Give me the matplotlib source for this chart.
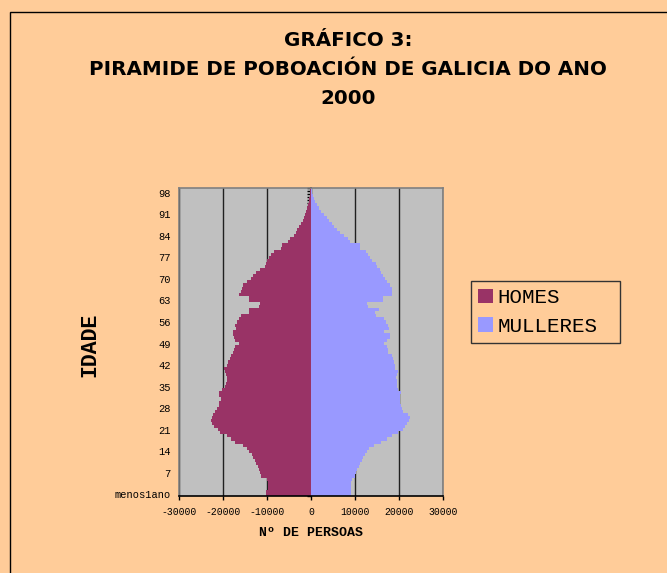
import matplotlib
matplotlib.use("Agg")
import matplotlib.pyplot as plt
import numpy as np
from matplotlib.patches import Patch, Rectangle

# population by single year of age, thousands of persons (0 = "menos1ano")
ages = np.arange(100)
homes = [
    10.3, 10.3, 9.8, 9.8, 9.8, 9.9, 11.3, 11.6, 11.8, 12.1,
    12.4, 12.7, 13.1, 13.5, 14.0, 14.5, 15.4, 17.3, 18.2, 19.2,
    20.6, 21.1, 22.1, 22.6, 22.7, 22.6, 22.3, 21.8, 21.4, 21.0,
    20.8, 20.5, 20.8, 20.8, 20.2, 19.5, 19.3, 19.2, 19.2, 19.3,
    19.5, 19.8, 19.2, 18.9, 18.5, 18.1, 17.7, 17.4, 17.3, 16.4,
    17.2, 17.6, 17.8, 17.7, 17.0, 17.2, 16.8, 16.4, 16.0, 14.1,
    14.1, 11.8, 11.6, 14.1, 14.1, 16.4, 15.9, 15.6, 15.5, 14.5,
    13.7, 13.1, 12.6, 11.6, 10.5, 10.3, 9.9, 9.5, 9.0, 8.4,
    6.9, 6.7, 5.2, 4.7, 3.8, 3.4, 3.1, 2.7, 2.3, 1.9,
    1.7, 1.3, 1.1, 0.8, 0.7, 0.5, 0.4, 0.3, 0.2, 0.15,
]
mulleres = [
    9.0, 9.0, 9.0, 9.1, 9.2, 9.3, 9.9, 10.2, 10.5, 10.8,
    11.1, 11.5, 11.9, 12.3, 12.7, 13.2, 14.3, 16.0, 17.2, 18.5,
    19.8, 20.8, 21.4, 21.8, 22.3, 22.5, 22.0, 21.0, 20.6, 20.5,
    20.3, 20.2, 20.2, 20.5, 19.8, 19.6, 19.6, 19.5, 19.3, 19.5,
    19.8, 19.2, 19.1, 18.9, 18.7, 18.3, 17.6, 17.4, 17.2, 16.6,
    17.3, 18.0, 18.0, 16.5, 17.7, 17.5, 17.0, 16.7, 14.8, 14.6,
    15.4, 13.0, 12.7, 16.3, 16.3, 18.4, 18.4, 18.3, 17.9, 17.2,
    16.8, 16.4, 16.0, 15.6, 15.0, 14.7, 13.9, 13.5, 13.0, 12.6,
    11.2, 11.2, 8.9, 8.4, 7.5, 6.7, 6.0, 5.3, 4.8, 4.2,
    3.7, 2.9, 2.3, 1.8, 1.4, 1.0, 0.7, 0.5, 0.3, 0.2,
]
ytick_ages = list(range(0, 99, 7))
ytick_labels = ["menos1ano"] + [str(a) for a in ytick_ages[1:]]
xticks = [-30000, -20000, -10000, 0, 10000, 20000, 30000]

BG = "#FFCC99"
MONO = "Liberation Mono"


def main() -> None:
    W, H = 667, 573
    fig = plt.figure(figsize=(W / 100, H / 100), dpi=100, facecolor=BG)

    # chart area border
    fig.patches.append(Rectangle((10 / W, -0.01), 1.0, 1 - 12 / H + 0.01, transform=fig.transFigure,
                                 fill=False, edgecolor="black", linewidth=1.0))

    left, right, top, bottom = 179, 443, 188, 496
    ax = fig.add_axes([left / W, 1 - bottom / H, (right - left) / W, (bottom - top) / H])
    ax.set_facecolor("#C0C0C0")

    h = np.array(homes) * 1000
    m = np.array(mulleres) * 1000
    ax.barh(ages, -h, height=1.0, color="#993366", label="HOMES", zorder=2)
    ax.barh(ages, m, height=1.0, color="#9999FF", label="MULLERES", zorder=2)

    ax.set_xlim(-30000, 30000)
    ax.set_ylim(-0.5, len(ages) - 0.5)
    ax.set_xticks(xticks)
    ax.set_xticklabels([str(v) for v in xticks], fontfamily=MONO, fontsize=7)
    ax.set_yticks(ytick_ages)
    ax.set_yticklabels(ytick_labels, fontfamily=MONO, fontsize=7.5)
    ax.tick_params(axis="y", length=0, pad=6)
    ax.tick_params(axis="x", length=3, width=1, direction="out", color="black", pad=5)

    ax.grid(axis="x", color="#202020", linewidth=1)
    ax.set_axisbelow(True)
    for s in ("left", "top", "right"):
        ax.spines[s].set_color("#808080")
        ax.spines[s].set_linewidth(1.2)
    ax.spines["bottom"].set_color("black")
    ax.spines["bottom"].set_linewidth(1.2)

    # category axis crossing at zero, tick marks between categories pointing left
    sec = ax.secondary_yaxis(0.5)
    sec.set_yticks(np.arange(-0.5, len(ages), 1.0))
    sec.tick_params(axis="y", length=3, width=1, color="black", direction="in",
                    labelleft=False, labelright=False)
    sec.spines["right"].set_color("black")
    sec.spines["right"].set_linewidth(1.2)

    # titles and axis labels
    cx = 348 / W
    fig.text(cx, 1 - 40 / H, "GRÁFICO 3:", ha="center", va="center", fontsize=14.3, fontweight="bold")
    fig.text(cx, 1 - 70 / H, "PIRAMIDE DE POBOACIÓN DE GALICIA DO ANO", ha="center", va="center",
             fontsize=14.3, fontweight="bold")
    fig.text(cx, 1 - 98 / H, "2000", ha="center", va="center", fontsize=14.3, fontweight="bold")
    fig.text(90 / W, 1 - 345 / H, "IDADE", rotation=90, ha="center", va="center",
             fontfamily=MONO, fontweight="bold", fontsize=15.5)
    fig.text(311 / W, 1 - 533 / H, "Nº DE PERSOAS", ha="center", va="center",
             fontfamily=MONO, fontweight="bold", fontsize=9.5)

    handles = [Patch(facecolor="#993366", edgecolor="none", label="HOMES"),
               Patch(facecolor="#9999FF", edgecolor="none", label="MULLERES")]
    leg = fig.legend(handles=handles, loc="upper left", mode="expand",
                     bbox_to_anchor=(471 / W, 1 - 352 / H, 149 / W, 71 / H),
                     prop={"family": MONO, "size": 15}, handlelength=0.72, handleheight=0.72,
                     handletextpad=0.2, borderpad=0.35, labelspacing=0.45, borderaxespad=0,
                     fancybox=False, framealpha=1, facecolor=BG, edgecolor="#333333")
    leg.get_frame().set_linewidth(1.0)

    fig.savefig("out.png", dpi=100, facecolor=BG)
    plt.close(fig)


if __name__ == "__main__":
    main()
